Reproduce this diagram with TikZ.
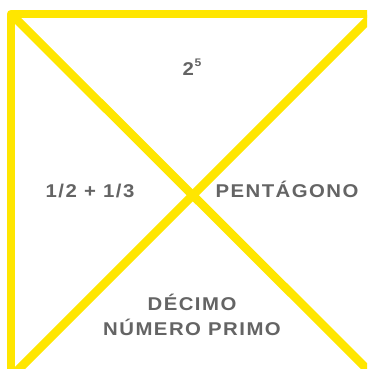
\documentclass[tikz,border=0pt]{standalone}
\usepackage{fontspec}
\setmainfont{Liberation Sans}
\newfontfamily\lblfont[FakeStretch=1.1,LetterSpace=8]{Liberation Sans Bold}
\definecolor{signyellow}{RGB}{255,230,0}
\definecolor{labelgray}{RGB}{100,100,100}
\begin{document}
\begin{tikzpicture}[x=1pt,y=-1pt,
  yline/.style={draw=signyellow,line width=8.5pt,line join=round},
  lbl/.style={text=labelgray,font=\lblfont\fontsize{18.5}{25}\selectfont,inner sep=0pt,anchor=base,align=center}]
\useasboundingbox (0,0) rectangle (367,369);
\clip (0,0) rectangle (367,369);
\coordinate (tl) at (11,14);
\coordinate (tr) at (380,14);
\coordinate (bl) at (11,380);
\coordinate (br) at (380,382);
\coordinate (trd) at (374,14);
\coordinate (bld) at (6,382);
\draw[yline] (tr) -- (tl) -- (bl);
\draw[yline] (tl) -- (br);
\draw[yline] (trd) -- (bld);
\node[lbl] (pow) at (192,75) {2\hspace{0.5pt}\raisebox{8.5pt}{\fontsize{11}{11}\selectfont 5}};
\node[lbl] (sum) at (90,197) {1/2 + 1/3};
\node[lbl] (pent) at (287,197) {PENTÁGONO};
\node[lbl] (dec) at (192,310) {DÉCIMO};
\node[lbl] (num) at (192,335) {NÚMERO PRIMO};
\end{tikzpicture}
\end{document}
